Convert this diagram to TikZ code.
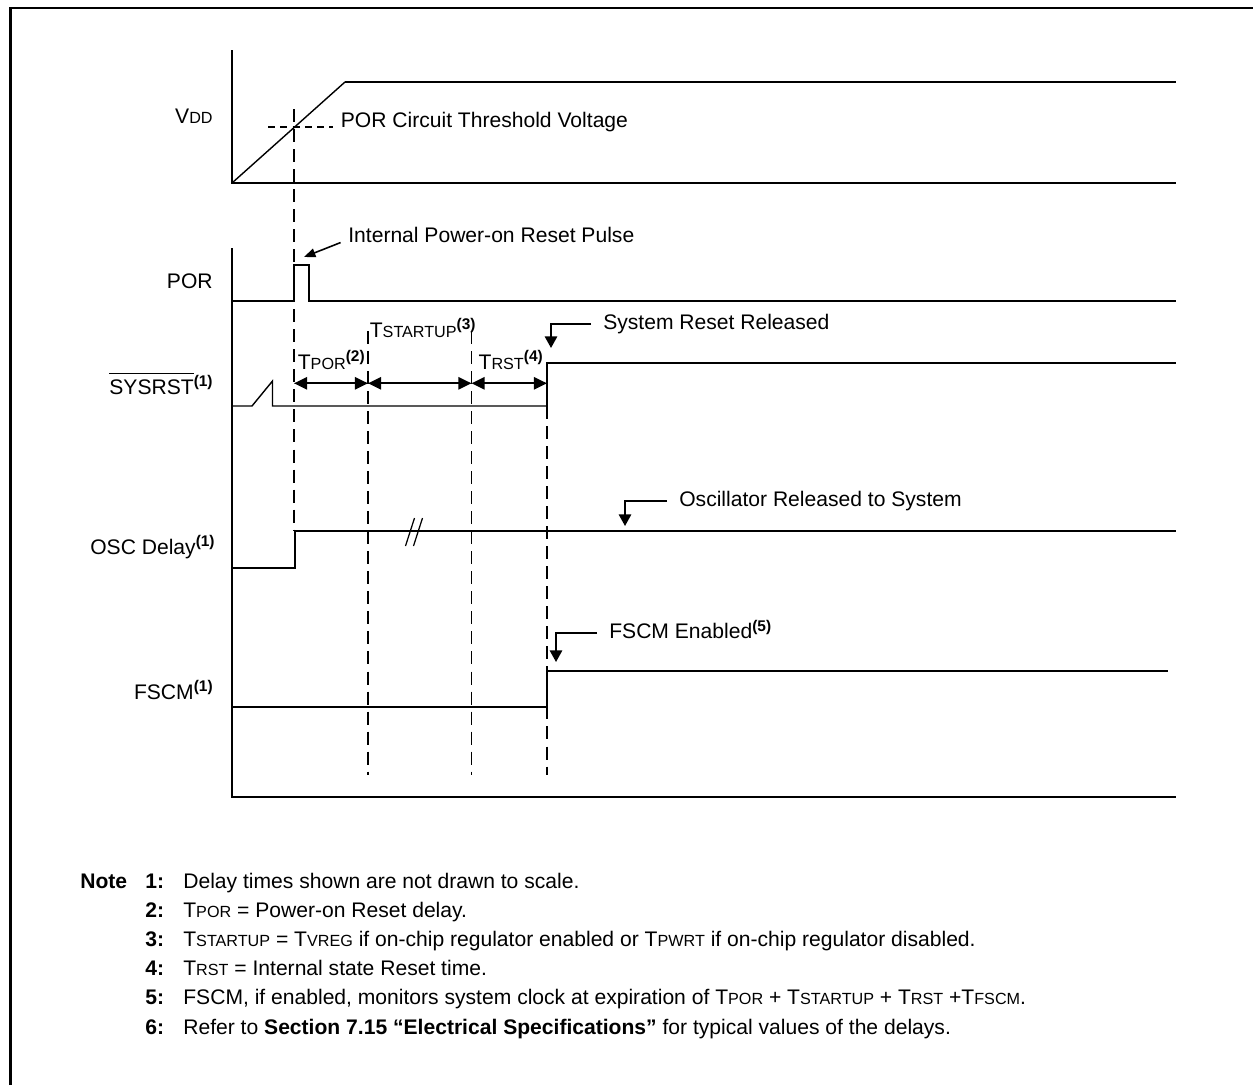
\documentclass[tikz,border=0pt]{standalone}
\usepackage{fontspec}
\setmainfont{Liberation Sans}
\usetikzlibrary{arrows.meta}
\usetikzlibrary{calc}

\newcommand{\lowcaps}[1]{{\fontsize{9.2}{10}\selectfont #1}}
\newcommand{\noteref}[1]{\raisebox{4.3pt}{\fontsize{8.8}{9}\selectfont\bfseries(#1)}}
\newcommand{\drawSpanArrow}[2]{
	\draw[span] (#1) -- (#2);
}
\newcommand{\drawCallout}[2]{
	\draw[callout] (#1.west) -| (#2);
}
\newcommand{\drawGuide}[3]{
	\draw[guide] (#1,#2) -- (#1,#3);
}
\newcommand{\drawNote}[4]{
	\node[txt, font={\fontsize{12}{14}\selectfont\bfseries}] (#1Num) at (145,#3) {#2:};
	\node[txt] (#1) at (183,#3) {#4};
}

\tikzset{
	sig/.style={line width=1.15pt},
	ramp/.style={line width=0.8pt},
	guide/.style={line width=0.85pt, dash pattern=on 7.4pt off 4pt},
	span/.style={line width=1.1pt, {Triangle[length=7.5pt,width=7pt]}-{Triangle[length=7.5pt,width=7pt]}},
	callout/.style={line width=1.1pt, -{Triangle[length=6.6pt,width=7pt]}},
	pointer/.style={line width=0.9pt, -{Triangle[length=6.5pt,width=5pt]}},
	lbl/.style={anchor=base east, inner sep=0pt, font=\fontsize{12}{14}\selectfont},
	txt/.style={anchor=base west, inner sep=0pt, font=\fontsize{12}{14}\selectfont},
	co/.style={anchor=west, inner xsep=6.8pt, inner ysep=0pt, text height=8.5pt, text depth=2.4pt, font=\fontsize{12}{14}\selectfont}
}

\begin{document}
\begin{tikzpicture}[x=0.02cm, y=-0.02cm]
	\useasboundingbox (0,0) rectangle (1253,1085);
	\draw[line width=1.15pt] (10.5,1085) -- (10.5,7.7) -- (1253,7.7);

	% VDD
	\draw[sig] (232,50) -- (232,183) -- (1176,183);
	\draw[ramp] (232,183) -- (345,82);
	\draw[sig] (345,82) -- (1176,82);
	\draw[ramp, dash pattern=on 4pt off 3pt] (268,127) -- (333,127);
	\node[lbl] (vddLbl) at (213,123) {V\lowcaps{DD}};
	\node[txt] (thrLbl) at (340.5,127) {POR Circuit Threshold Voltage};

	% POR
	\draw[sig] (232,248) -- (232,797) -- (1176,797);
	\draw[sig] (232,301) -- (294,301) -- (294,265) -- (309,265) -- (309,301) -- (1176,301);
	\node[lbl] (porLbl) at (213,288) {POR};
	\coordinate (pulseTip) at (304,257);
	\node[txt, inner xsep=4.2pt] (pulseLbl) at (340.6,242) {Internal Power-on Reset Pulse};
	\draw[pointer] (pulseLbl.south west) -- (pulseTip);

	% SYSRST
	\draw[ramp] (232,406) -- (252,406) -- (272.5,381) -- (272.5,406) -- (547,406);
	\draw[sig] (547,406) -- (547,363) -- (1176,363);
	\node[lbl] (rstLbl) at (213,394) {$\overline{\mbox{SYSRST\rule{0pt}{10.5pt}}}$\noteref{1}};

	\drawGuide{294}{109}{531}
	\drawGuide{368}{331}{775}
	\drawGuide{471.5}{331}{775}
	\drawGuide{547}{406}{775}

	\coordinate (span0) at (294,383.3);
	\coordinate (span1) at (368,383.3);
	\coordinate (span2) at (471.5,383.3);
	\coordinate (span3) at (547,383.3);
	\drawSpanArrow{span0}{span1}
	\drawSpanArrow{span1}{span2}
	\drawSpanArrow{span2}{span3}
	\node[txt] (tporLbl) at (297.5,369) {T\lowcaps{POR}\noteref{2}};
	\node[txt] (tstartLbl) at (369.5,337) {T\lowcaps{STARTUP}\noteref{3}};
	\node[txt] (trstLbl) at (478.3,369) {T\lowcaps{RST}\noteref{4}};

	\coordinate (relTip) at (551,348);
	\node[co] (relLbl) at (591,324) {System Reset Released};
	\drawCallout{relLbl}{relTip}

	% OSC
	\draw[sig] (232,567.7) -- (295,567.7) -- (295,531) -- (1176,531);
	\draw[line width=0.7pt] (405.5,546) -- (414.5,518) (413.5,546) -- (422.5,518);
	\node[lbl] (oscLbl) at (215,554) {OSC Delay\noteref{1}};
	\coordinate (oscTip) at (625,526);
	\node[co] (oscRelLbl) at (667,500.7) {Oscillator Released to System};
	\drawCallout{oscRelLbl}{oscTip}

	% FSCM
	\draw[sig] (232,707) -- (547,707) -- (547,671) -- (1168,671);
	\node[lbl] (fscmLbl) at (213,699) {FSCM\noteref{1}};
	\coordinate (fscmTip) at (556,662);
	\node[co] (fscmOnLbl) at (597,633.3) {FSCM Enabled\noteref{5}};
	\drawCallout{fscmOnLbl}{fscmTip}

	% notes
	\node[txt, font={\fontsize{12}{14}\selectfont\bfseries}] (noteHead) at (80,888) {Note};
	\drawNote{noteA}{1}{888}{Delay times shown are not drawn to scale.}
	\drawNote{noteB}{2}{917.2}{T\lowcaps{POR} = Power-on Reset delay.}
	\drawNote{noteC}{3}{946.4}{T\lowcaps{STARTUP} = T\lowcaps{VREG} if on-chip regulator enabled or T\lowcaps{PWRT} if on-chip regulator disabled.}
	\drawNote{noteD}{4}{975.6}{T\lowcaps{RST} = Internal state Reset time.}
	\drawNote{noteE}{5}{1004.8}{FSCM, if enabled, monitors system clock at expiration of T\lowcaps{POR} + T\lowcaps{STARTUP} + T\lowcaps{RST} +T\lowcaps{FSCM}.}
	\drawNote{noteF}{6}{1034}{Refer to \textbf{Section 7.15 “Electrical Specifications”} for typical values of the delays.}

\end{tikzpicture}
\end{document}
